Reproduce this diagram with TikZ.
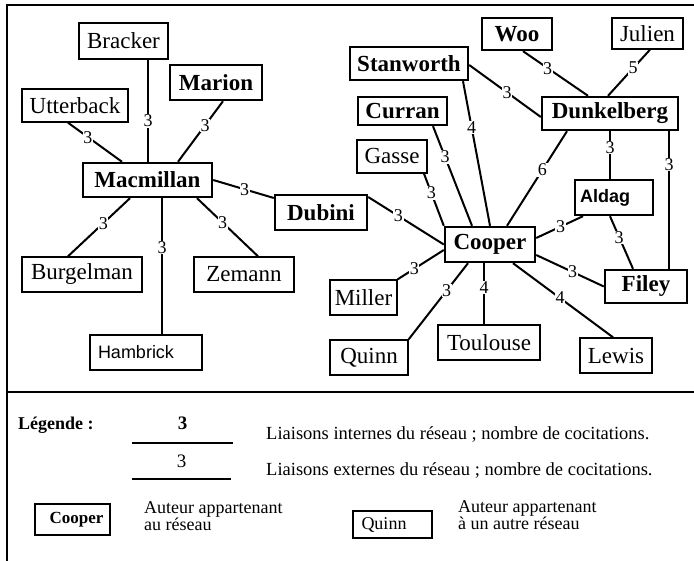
\documentclass[tikz,border=0pt]{standalone}
\usepackage{fontspec}
\setmainfont{Liberation Serif}
\newfontfamily\arialf{Liberation Sans}
\usetikzlibrary{calc}
\tikzset{
  inbox/.style={draw, line width=2.4pt, inner sep=0pt, font=\fontsize{23}{26}\selectfont\bfseries},
  outbox/.style={draw, line width=1.4pt, inner sep=0pt, font=\fontsize{23}{26}\selectfont},
  lnk/.style={line width=2pt},
  xlnk/.style={line width=1.3pt},
  lab/.style={fill=white, inner sep=0.6pt, font=\fontsize{18}{18}\selectfont},
  legtext/.style={font=\fontsize{18.5}{16}\selectfont, inner sep=0pt, anchor=west, align=left},
  frame/.style={line width=1.4pt}
}
\begin{document}
\begin{tikzpicture}[x=1pt,y=-1pt]
\useasboundingbox (0,0) rectangle (694,561);
% frame
\coordinate (ftl) at (7,5);
\coordinate (ftr) at (694,5);
\coordinate (fbl) at (7,561);
\coordinate (fdl) at (7,392);
\coordinate (fdr) at (694,392);
\draw[frame] (ftr) -- (ftl) -- (fbl);
\draw[frame] (fdl) -- (fdr);

% nodes
\node[outbox, minimum width=89pt, minimum height=36pt] (Bracker) at (123.5,41) {Bracker};
\node[inbox, minimum width=92pt, minimum height=35pt] (Marion) at (216,82.5) {Marion};
\node[outbox, minimum width=106pt, minimum height=33pt] (Utterback) at (75,105.5) {Utterback};
\node[inbox, minimum width=129pt, minimum height=34pt] (Macmillan) at (147.5,180) {Macmillan};
\node[inbox, minimum width=92pt, minimum height=35pt] (Dubini) at (321,212.5) {Dubini};
\node[outbox, minimum width=120pt, minimum height=35pt] (Burgelman) at (82,274.5) {Burgelman};
\node[outbox, minimum width=100pt, minimum height=35pt] (Zemann) at (244,274.5) {Zemann};
\node[outbox, minimum width=112pt, minimum height=35pt, text width=96pt, align=left, font=\arialf\fontsize{18}{20}\selectfont] (Hambrick) at (146,352.5) {Hambrick};

\node[inbox, minimum width=70pt, minimum height=32pt] (Woo) at (517,34) {Woo};
\node[outbox, minimum width=71pt, minimum height=31pt] (Julien) at (647.5,33.5) {Julien};
\node[inbox, minimum width=118pt, minimum height=33pt] (Stanworth) at (409,63.5) {Stanworth};
\node[inbox, minimum width=89pt, minimum height=28pt] (Curran) at (402.5,111) {Curran};
\node[outbox, minimum width=70pt, minimum height=33pt] (Gasse) at (392,156.5) {Gasse};
\node[inbox, minimum width=136pt, minimum height=33pt] (Dunkelberg) at (610,113.5) {Dunkelberg};
\node[inbox, minimum width=78pt, minimum height=35pt, text width=68pt, align=left, font=\arialf\bfseries\fontsize{18}{20}\selectfont] (Aldag) at (614,197.5) {Aldag};
\node[inbox, minimum width=90pt, minimum height=35pt] (Cooper) at (490,244.5) {Cooper};
\node[outbox, minimum width=67pt, minimum height=35pt] (Miller) at (363.5,297.5) {Miller};
\node[outbox, minimum width=78pt, minimum height=35pt] (Quinn) at (369,357.5) {Quinn};
\node[outbox, minimum width=102pt, minimum height=35pt] (Toulouse) at (489,342.5) {Toulouse};
\node[outbox, minimum width=72pt, minimum height=35pt] (Lewis) at (616,355.5) {Lewis};
\node[inbox, minimum width=82pt, minimum height=33pt] (Filey) at (646,286.5) {Filey};

% links
\draw[lnk] ([xshift=-7pt]Utterback.south) -- node[lab,pos=.37]{3} ([xshift=-25.5pt]Macmillan.north);
\draw[lnk] ([xshift=24.5pt]Bracker.south) -- node[lab,pos=.6]{3} ([xshift=0.5pt]Macmillan.north);
\draw[lnk] ([xshift=7pt]Marion.south) -- node[lab,pos=.4]{3} ([xshift=30.5pt]Macmillan.north);
\draw[lnk] (Macmillan.east) -- node[lab,pos=.52]{3} ([yshift=14.5pt]Dubini.west);
\draw[lnk] ([xshift=-17.5pt]Macmillan.south) -- node[lab,pos=.43]{3} ([xshift=-14pt]Burgelman.north);
\draw[xlnk] ([xshift=14.5pt]Macmillan.south) -- node[lab,pos=.36]{3} ([xshift=16pt]Hambrick.north);
\draw[lnk] ([xshift=49.5pt]Macmillan.south) -- node[lab,pos=.42]{3} ([xshift=14pt]Zemann.north);

\draw[lnk] ([yshift=15.5pt]Dubini.east) -- node[lab,pos=.4]{3} (Cooper.west);
\draw[lnk] ([xshift=32pt]Gasse.south) -- node[lab,pos=.37]{3} (Cooper.north west);
\draw[lnk] ([xshift=30.5pt]Curran.south) -- node[lab,pos=.31]{3} ([xshift=-18pt]Cooper.north);
\draw[lnk] ([xshift=54pt]Stanworth.south) -- node[lab,pos=.32]{4} (Cooper.north);
\draw[lnk] ([yshift=-1.5pt]Stanworth.east) -- node[lab,pos=.53]{3} ([yshift=-3.5pt]Dunkelberg.west);
\draw[lnk] ([xshift=6pt]Woo.south) -- node[lab,pos=.38]{3} ([xshift=-22pt]Dunkelberg.north);
\draw[lnk] ([xshift=2.5pt]Julien.south) -- node[lab,pos=.4]{5} ([xshift=-2pt]Dunkelberg.north);
\draw[lnk] ([xshift=-43pt]Dunkelberg.south) -- node[lab,pos=.41]{6} ([xshift=17pt]Cooper.north);
\draw[lnk] (Dunkelberg.south) -- node[lab,pos=.34]{3} ([xshift=-4pt]Aldag.north);
\draw[lnk] ([xshift=59pt]Dunkelberg.south) -- node[lab,pos=.24]{3} ([xshift=23pt]Filey.north);
\draw[lnk] ([xshift=-31pt]Aldag.south) -- node[lab,pos=.48]{3} ([yshift=6.5pt]Cooper.east);
\draw[lnk] ([xshift=-4pt]Aldag.south) -- node[lab,pos=.4]{3} ([xshift=-13pt]Filey.north);
\draw[lnk] ([yshift=-10.5pt]Cooper.east) -- node[lab,pos=.54]{3} (Filey.west);
\draw[lnk] ([yshift=-5.5pt]Cooper.west) -- node[lab,pos=.64]{3} (Miller.north east);
\draw[lnk] ([xshift=-22pt]Cooper.south) -- node[lab,pos=.36]{3} (Quinn.north east);
\draw[xlnk] ([xshift=-6pt]Cooper.south) -- node[lab,pos=.4]{4} ([xshift=-5pt]Toulouse.north);
\draw[lnk] ([xshift=23pt]Cooper.south) -- node[lab,pos=.47]{4} ([xshift=-3pt]Lewis.north);

% legend
\node[legtext, font=\fontsize{18}{16}\selectfont\bfseries] (leg) at (18,425) {Légende :};
\coordinate (i1) at (132,443);
\coordinate (i2) at (233,443);
\draw[lnk] (i1) -- node[above=12pt, inner sep=0pt, font=\fontsize{19}{16}\selectfont\bfseries] (li) {3} (i2);
\node[legtext] (t1) at (266,434) {Liaisons internes du réseau ; nombre de cocitations.};
\coordinate (e1) at (132,479);
\coordinate (e2) at (231,479);
\draw[xlnk] (e1) -- node[above=11pt, inner sep=0pt, font=\fontsize{19}{16}\selectfont] (le) {3} (e2);
\node[legtext] (t2) at (266,470) {Liaisons externes du réseau ; nombre de cocitations.};
\node[inbox, minimum width=75pt, minimum height=31pt, text width=62pt, align=right, font=\fontsize{17}{15}\selectfont\bfseries] (lc) at (72.5,519.5) {Cooper};
\node[legtext, font=\fontsize{18}{16}\selectfont] (t3) at (144,516) {Auteur appartenant\\au réseau};
\node[outbox, minimum width=79pt, minimum height=27pt, text width=62pt, align=left, font=\fontsize{18}{15}\selectfont] (lq) at (392.5,524.5) {Quinn};
\node[legtext, font=\fontsize{18}{16}\selectfont] (t4) at (458,515) {Auteur appartenant\\à un autre réseau};
\end{tikzpicture}
\end{document}
